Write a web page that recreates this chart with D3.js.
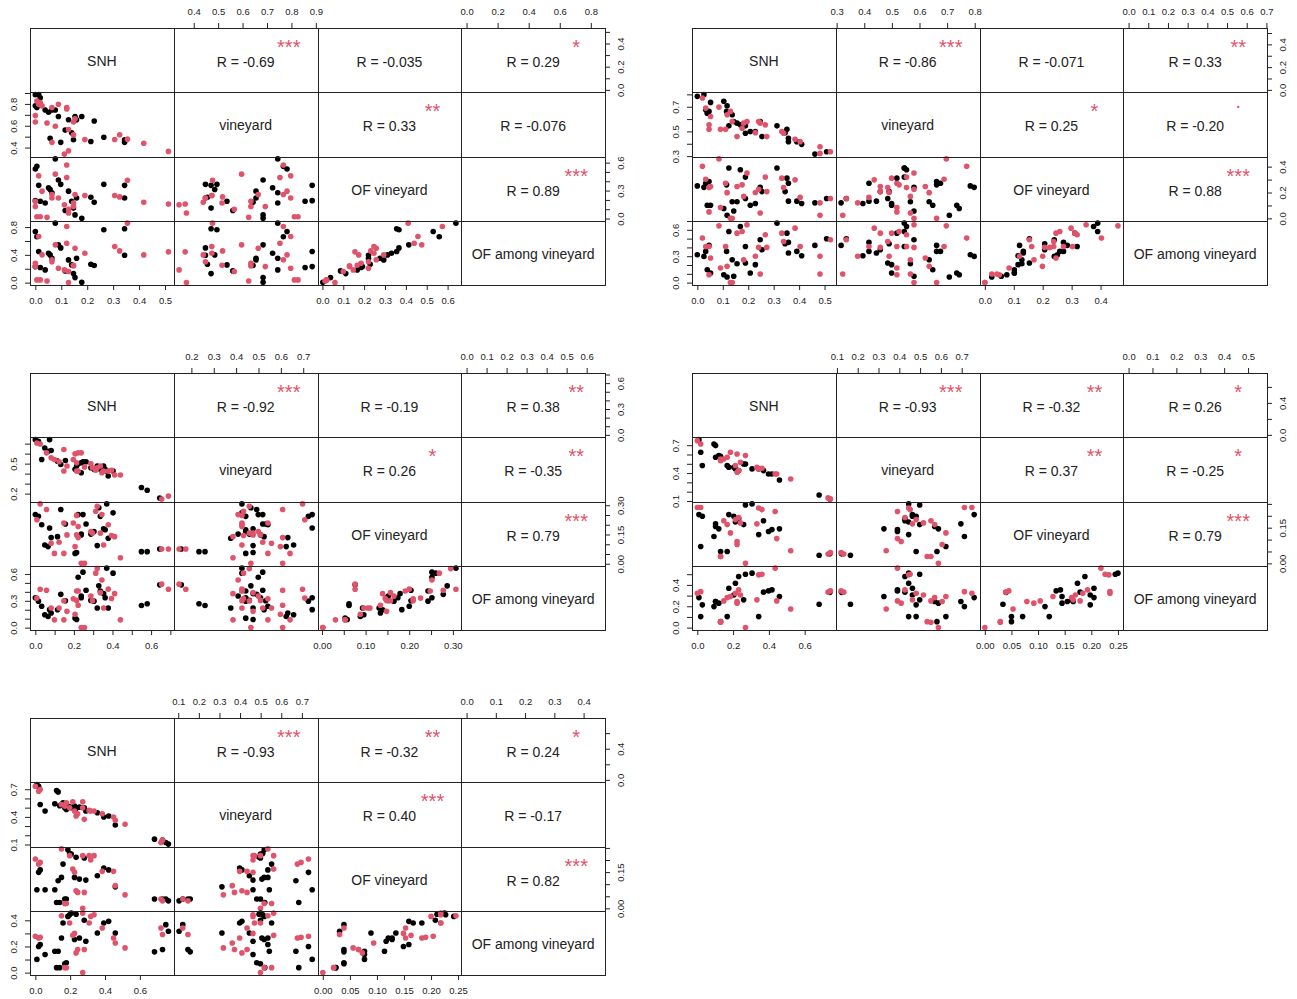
<!DOCTYPE html>
<html>
<head>
<meta charset="utf-8">
<script src="https://cdn.jsdelivr.net/npm/d3@7"></script>
<style>
  body { margin: 0; background: #fff; }
  text { font-family: 'Liberation Sans', Arial, sans-serif; }
</style>
</head>
<body>
<script>
// variable names on the diagonal
const varNames = ['SNH', 'vineyard', 'OF vineyard', 'OF among vineyard'];

// ---- panel 1 ----
const snh1k = [0, 0, .006, .013, .019, .038, .051, .057, .064, .077, .089, .098, .115, .128, .140, .147, .153, .159, .179, .214, .227, .264, .344, .344];
const vine1k = [.885, .782, .767, .885, .856, .744, .723, .486, .744, .744, .684, .448, .560, .655, .536, .471, .684, .655, .684, .456, .643, .495, .471, .448];
const ofv1k = [.192, .531, .56, .356, .185, .167, .331, .312, .276, .64, .414, .367, .087, .294, .185, .112, .039, .221, .002, .229, .174, .367, .356, .221];
const ofa1k = [.231, .737, .66, .448, .217, .183, .424, .399, .351, .857, .544, .50, .169, .327, .255, .13, .072, .351, .005, .265, .246, .761, .775, .395];
const snh1r = [0, 0, .006, .013, .019, .026, .045, .064, .064, .077, .089, .112, .121, .121, .128, .128, .147, .147, .153, .191, .306, .325, .355, .418, .513];
const vine1r = [.693, .634, .827, .797, .812, .782, .625, .767, .448, .596, .797, .340, .767, .753, .566, .370, .634, .516, .664, .474, .474, .518, .477, .439, .365];
const ofv1r = [.13, .185, .02, .458, .02, .294, .013, .258, .221, .476, .221, .148, .575, .44, .10, .06, .13, .167, .258, .247, .247, .232, .411, .174, .156];
const ofa1r = [.231, .279, .039, .665, .039, .40, .024, .33, .30, .544, .207, .183, .809, .568, .16, 0, .241, .25, .496, .424, .52, .457, .857, .399, .443];
const rVal1 = ['-0.69', '-0.035', '0.29', '0.33', '-0.076', '0.89'];
const sig1 = ['***', '', '*', '**', '', '***'];

// ---- panel 2 ----
const snh2k = [0, .026, .033, .039, .046, .052, .104, .115, .117, .124, .137, .143, .156, .169, .189, .189, .208, .228, .247, .254, .313, .345, .352, .358, .358, .391, .410, .462, .508];
const vine2k = [.784, .798, .676, .648, .662, .735, .744, .662, .708, .545, .635, .580, .567, .553, .545, .485, .499, .499, .580, .458, .545, .490, .518, .444, .417, .417, .395, .316, .335];
const ofv2k = [.251, .24, .272, .102, .285, .102, .076, .259, .024, .39, .128, .057, .128, .376, .319, .154, .102, .115, .24, .207, .39, .207, .311, .133, .272, .133, .115, .12, .154];
const ofa2k = [.317, .298, .355, .147, .423, .11, .09, .355, .064, .581, .26, .072, .215, .638, .411, .223, .11, .204, .487, .374, .676, .442, .562, .336, .457, .355, .306, .423, .498];
const snh2r = [.02, .033, .046, .046, .052, .085, .091, .111, .117, .130, .137, .156, .176, .182, .195, .228, .241, .247, .267, .273, .332, .339, .384, .404, .482, .482, .523];
const vine2r = [.771, .689, .553, .518, .621, .697, .518, .518, .635, .662, .580, .458, .526, .567, .580, .490, .580, .567, .553, .458, .499, .485, .436, .417, .376, .322, .335];
const ofv2r = [.403, .303, .238, .05, .246, .46, .084, .272, .199, 0, 0, .246, .259, .17, .35, .2, .225, .042, .319, .207, .311, .238, .298, .162, .12, .024, .154];
const ofa2r = [.506, .411, .411, .09, .279, .645, .166, .411, .185, 0, 0, .562, .581, .26, .657, .30, .40, .098, .544, .40, .562, .468, .619, .411, .30, .098, .487];
const rVal2 = ['-0.86', '-0.071', '0.33', '0.25', '-0.20', '0.88'];
const sig2 = ['***', '', '**', '*', '.', '***'];

// ---- panel 3 ----
const snh3k = [0, .016, .033, .049, .066, .074, .082, .115, .132, .156, .206, .214, .222, .238, .238, .247, .263, .288, .304, .321, .329, .337, .354, .362, .370, .378, .403, .55, .58, .645];
const vine3k = [.74, .723, .542, .657, .624, .74, .631, .525, .492, .532, .443, .476, .499, .509, .409, .519, .519, .459, .443, .476, .466, .443, .476, .443, .426, .376, .426, .261, .234, .155];
const ofv3k = [.252, .243, .2, .096, .088, .183, .134, .139, .278, .204, .053, .058, .252, .148, .152, .252, .204, .152, .165, .093, .287, .243, .179, .174, .307, .131, .261, .062, .062, .076];
const ofa3k = [.334, .296, .239, .144, .124, .201, .163, .20, .372, .30, .106, .09, .563, .334, .353, .62, .418, .304, .296, .22, .467, .41, .38, .334, .665, .22, .609, .247, .266, .478];
const snh3r = [.008, .025, .058, .082, .099, .123, .148, .148, .164, .197, .206, .214, .214, .222, .222, .238, .255, .288, .296, .313, .321, .337, .345, .354, .378, .395, .411, .441, .655, .69];
const vine3r = [.707, .697, .608, .558, .542, .519, .641, .426, .476, .542, .598, .509, .426, .608, .426, .608, .466, .499, .459, .433, .459, .476, .409, .426, .426, .433, .386, .386, .145, .175];
const ofv3r = [.226, .307, .278, .105, .053, .11, .053, .209, .148, .209, .088, .148, .248, .134, .191, .002, .002, .165, .157, .269, .295, .157, .252, .096, .20, .145, .139, .031, .076, .076];
const ofa3r = [.33, .429, .418, .22, .087, .22, .087, .30, .182, .323, .15, .304, .41, .25, .41, 0, 0, .353, .30, .609, .66, .391, .532, .22, .43, .326, .38, .087, .486, .429];
const rVal3 = ['-0.92', '-0.19', '0.38', '0.26', '-0.35', '0.79'];
const sig3 = ['***', '', '**', '*', '**', '***'];

// ---- panel 4 ----
const snh4k = [.009, .019, .028, .093, .102, .102, .12, .13, .167, .176, .204, .213, .231, .259, .269, .306, .343, .370, .398, .417, .459, .681, .741];
const vine4k = [.76, .624, .481, .713, .696, .57, .588, .581, .481, .463, .463, .445, .427, .498, .498, .445, .445, .427, .391, .391, .326, .165, .122];
const ofv4k = [.205, .071, .198, .113, .166, .155, .145, .05, .05, .205, .198, .174, .188, .163, .245, .25, .121, .179, .134, .142, .145, .034, .04];
const ofa4k = [.281, .103, .213, .197, .244, .244, .229, .056, .103, .369, .306, .416, .478, .26, .5, .51, .103, .332, .344, .353, .291, .219, .33];
const snh4r = [0, .019, .13, .13, .148, .167, .185, .213, .222, .222, .231, .241, .269, .333, .343, .361, .435, .444, .522, .731, .744];
const vine4r = [.749, .713, .552, .534, .552, .57, .624, .481, .606, .409, .427, .516, .588, .463, .445, .452, .391, .391, .337, .133, .12];
const ofv4r = [.235, .235, .029, .029, .179, .163, .128, .184, .079, .092, .193, .17, 0, .166, .233, .226, .218, .104, .053, .039, .045];
const ofa4r = [.322, .337, .05, .056, .25, .281, .291, .322, .244, .229, .353, .306, 0, .26, .494, .5, .557, .25, .175, .332, .344];
const rVal4 = ['-0.93', '-0.32', '0.26', '0.37', '-0.25', '0.79'];
const sig4 = ['***', '**', '*', '**', '*', '***'];

// ---- panel 5 ----
const snh5k = [.009, .019, .028, .056, .112, .122, .131, .14, .15, .159, .169, .178, .187, .197, .206, .225, .234, .253, .281, .29, .356, .393, .421, .459, .684, .730, .749, .764];
const vine5k = [.75, .732, .535, .463, .542, .685, .671, .52, .535, .553, .499, .481, .517, .51, .499, .517, .492, .506, .499, .463, .445, .398, .409, .312, .158, .147, .122, .104];
const ofv5k = [.077, .149, .159, .077, .077, .024, .114, .024, .128, .183, .039, .039, .242, .227, .225, .128, .211, .121, .208, .117, .135, .167, .159, .089, .039, .039, .039, .031];
const ofa5k = [.101, .20, .215, .139, .164, .038, .164, .038, .265, .379, .068, .075, .43, .443, .455, .253, .447, .265, .40, .24, .303, .379, .392, .303, .159, .177, .367, .316];
const snh5r = [0, .019, .028, .15, .169, .178, .197, .215, .225, .234, .243, .272, .272, .281, .309, .318, .337, .384, .449, .459, .515, .721, .730];
const vine5r = [.732, .678, .696, .535, .517, .553, .499, .563, .463, .409, .434, .563, .499, .373, .47, .463, .463, .434, .398, .362, .319, .122, .147];
const ofv5r = [.204, .183, .19, .246, .02, .02, .218, .163, .149, .073, .066, .218, 0, .066, .218, .20, .218, .153, .153, .094, .056, .039, .031];
const ofa5r = [.278, .265, .27, .435, .038, .038, .379, .285, .30, .151, .177, .455, 0, .177, .379, .43, .443, .341, .265, .227, .189, .341, .291];
const rVal5 = ['-0.93', '-0.32', '0.24', '0.40', '-0.17', '0.82'];
const sig5 = ['***', '**', '*', '***', '', '***'];

const W = 1297, H = 999;
const cw = 143.75, ch = 64.25;
const tickFont = 9.5;
const red = '#DF536B';

const svg = d3.select('body').append('svg').attr('width', W).attr('height', H);
svg.append('rect').attr('width', W).attr('height', H).attr('fill', '#fff');

function records(snh, vine, ofv, ofa, col) {
  return snh.map((d, i) => ({ v: [snh[i], vine[i], ofv[i], ofa[i]], col }));
}

const panels = [
  { x0: 30, y0: 28, rows: records(snh1k, vine1k, ofv1k, ofa1k, '#000').concat(records(snh1r, vine1r, ofv1r, ofa1r, red)), r: rVal1, s: sig1 },
  { x0: 692, y0: 28, rows: records(snh2k, vine2k, ofv2k, ofa2k, '#000').concat(records(snh2r, vine2r, ofv2r, ofa2r, red)), r: rVal2, s: sig2 },
  { x0: 30, y0: 373, rows: records(snh3k, vine3k, ofv3k, ofa3k, '#000').concat(records(snh3r, vine3r, ofv3r, ofa3r, red)), r: rVal3, s: sig3 },
  { x0: 692, y0: 373, rows: records(snh4k, vine4k, ofv4k, ofa4k, '#000').concat(records(snh4r, vine4r, ofv4r, ofa4r, red)), r: rVal4, s: sig4 },
  { x0: 30, y0: 718, rows: records(snh5k, vine5k, ofv5k, ofa5k, '#000').concat(records(snh5r, vine5r, ofv5r, ofa5r, red)), r: rVal5, s: sig5 }
];

// tick values the way R's axis picks them
function rPretty(lo, hi) {
  const cell = (hi - lo) / 5;
  const U = Math.pow(10, Math.floor(Math.log10(cell)));
  let unit = U;
  if (2 * U - cell < 0.8 * (cell - unit)) {
    unit = 2 * U;
    if (5 * U - cell < 1.7 * (cell - unit)) {
      unit = 5 * U;
      if (10 * U - cell < 0.8 * (cell - unit)) unit = 10 * U;
    }
  }
  const ticks = d3.range(Math.ceil(lo / unit - 1e-9), Math.floor(hi / unit + 1e-9) + 1)
    .map(k => +(k * unit).toFixed(10));
  const digits = Math.max(0, -Math.floor(Math.log10(unit) + 1e-9));
  return { ticks, fmt: d3.format('.' + digits + 'f') };
}

function labelWidth(s) {
  let w = 0;
  for (const c of s) w += c === '.' ? 0.278 : c === '-' ? 0.333 : 0.556;
  return w * tickFont;
}

// drop labels that would collide, like R does
function shownTicks(ticks, fmt, pos, gap) {
  const shown = new Set();
  let lastEnd = -Infinity;
  ticks.forEach(t => {
    const p = pos(t), w = labelWidth(fmt(t));
    if (p - w / 2 >= lastEnd + gap) {
      shown.add(t);
      lastEnd = p + w / 2;
    }
  });
  return shown;
}

function drawAxis(g, scale, side, x0, y0) {
  const dom = scale.domain();
  const { ticks, fmt } = rPretty(dom[0], dom[1]);
  const horizontal = side === 'top' || side === 'bottom';
  const shown = horizontal ? shownTicks(ticks, fmt, scale, 6.3) : shownTicks(ticks, fmt, t => -scale(t), 7.6);
  const gen = side === 'top' ? d3.axisTop(scale) : side === 'bottom' ? d3.axisBottom(scale)
    : side === 'left' ? d3.axisLeft(scale) : d3.axisRight(scale);
  gen.tickValues(ticks).tickSize(5).tickFormat(fmt);
  const ax = g.append('g').attr('transform', `translate(${x0},${y0})`).call(gen);
  ax.select('.domain').remove();
  ax.selectAll('.tick line').attr('stroke', '#222');
  ax.selectAll('.tick text')
    .attr('font-size', tickFont)
    .attr('fill', '#222')
    .style('font-family', "'Liberation Sans', Arial, sans-serif")
    .style('display', d => shown.has(d) ? null : 'none');
  if (side === 'top') ax.selectAll('.tick text').attr('y', -12.6).attr('dy', 0);
  if (side === 'bottom') ax.selectAll('.tick text').attr('y', 19.4).attr('dy', 0);
  if (side === 'left' || side === 'right') {
    ax.selectAll('.tick text')
      .attr('transform', 'rotate(-90)')
      .attr('x', 0)
      .attr('dy', 0)
      .attr('y', side === 'left' ? -12.6 : 19.4)
      .attr('text-anchor', 'middle');
  }
  ax.attr('font-family', null);
}

panels.forEach(p => {
  const g = svg.append('g');
  const xs = [], ys = [];
  for (let v = 0; v < 4; v++) {
    const ext = d3.extent(p.rows, d => d.v[v]);
    const pad = (ext[1] - ext[0]) * 0.04;
    const dom = [ext[0] - pad, ext[1] + pad];
    xs.push(d3.scaleLinear().domain(dom).range([p.x0 + v * cw, p.x0 + (v + 1) * cw]));
    ys.push(d3.scaleLinear().domain(dom).range([p.y0 + (v + 1) * ch, p.y0 + v * ch]));
  }

  for (let i = 0; i < 4; i++) {
    for (let j = 0; j < 4; j++) {
      const cx = p.x0 + j * cw, cy = p.y0 + i * ch;
      if (i > j) {
        g.append('g').selectAll('circle')
          .data(p.rows)
          .join('circle')
          .attr('cx', d => xs[j](d.v[j]))
          .attr('cy', d => ys[i](d.v[i]))
          .attr('r', 2.8)
          .attr('fill', d => d.col);
      } else if (i === j) {
        g.append('text')
          .attr('x', cx + cw / 2).attr('y', cy + ch / 2 + 1)
          .attr('dy', '0.35em')
          .attr('text-anchor', 'middle')
          .attr('font-size', 14)
          .attr('fill', '#222')
          .text(varNames[i]);
      }
    }
  }
  // upper panels: correlation and stars
  const pairs = [[0, 1], [0, 2], [0, 3], [1, 2], [1, 3], [2, 3]];
  pairs.forEach(([i, j], n) => {
    const cx = p.x0 + j * cw, cy = p.y0 + i * ch;
    g.append('text')
      .attr('x', cx + cw / 2).attr('y', cy + ch / 2 + 2)
      .attr('dy', '0.35em')
      .attr('text-anchor', 'middle')
      .attr('font-size', 14)
      .attr('fill', '#222')
      .text('R = ' + p.r[n]);
    if (p.s[n]) {
      g.append('text')
        .attr('x', cx + cw * 0.8)
        .attr('y', cy + 15 + (p.s[n] === '.' ? 1 : 11))
        .attr('text-anchor', 'middle')
        .attr('font-size', 20)
        .attr('fill', red)
        .text(p.s[n]);
    }
  });

  // cell frames
  for (let i = 0; i < 4; i++) {
    for (let j = 0; j < 4; j++) {
      g.append('rect')
        .attr('x', Math.round(p.x0 + j * cw) + 0.5)
        .attr('y', Math.round(p.y0 + i * ch) + 0.5)
        .attr('width', Math.round(p.x0 + (j + 1) * cw) - Math.round(p.x0 + j * cw))
        .attr('height', Math.round(p.y0 + (i + 1) * ch) - Math.round(p.y0 + i * ch))
        .attr('fill', 'none')
        .attr('stroke', '#222')
        .attr('stroke-width', 1);
    }
  }

  // axes on alternating sides
  drawAxis(g, xs[1], 'top', 0, p.y0);
  drawAxis(g, xs[3], 'top', 0, p.y0);
  drawAxis(g, xs[0], 'bottom', 0, p.y0 + 4 * ch);
  drawAxis(g, xs[2], 'bottom', 0, p.y0 + 4 * ch);
  drawAxis(g, ys[1], 'left', p.x0, 0);
  drawAxis(g, ys[3], 'left', p.x0, 0);
  drawAxis(g, ys[0], 'right', p.x0 + 4 * cw, 0);
  drawAxis(g, ys[2], 'right', p.x0 + 4 * cw, 0);
});
</script>
</body>
</html>
